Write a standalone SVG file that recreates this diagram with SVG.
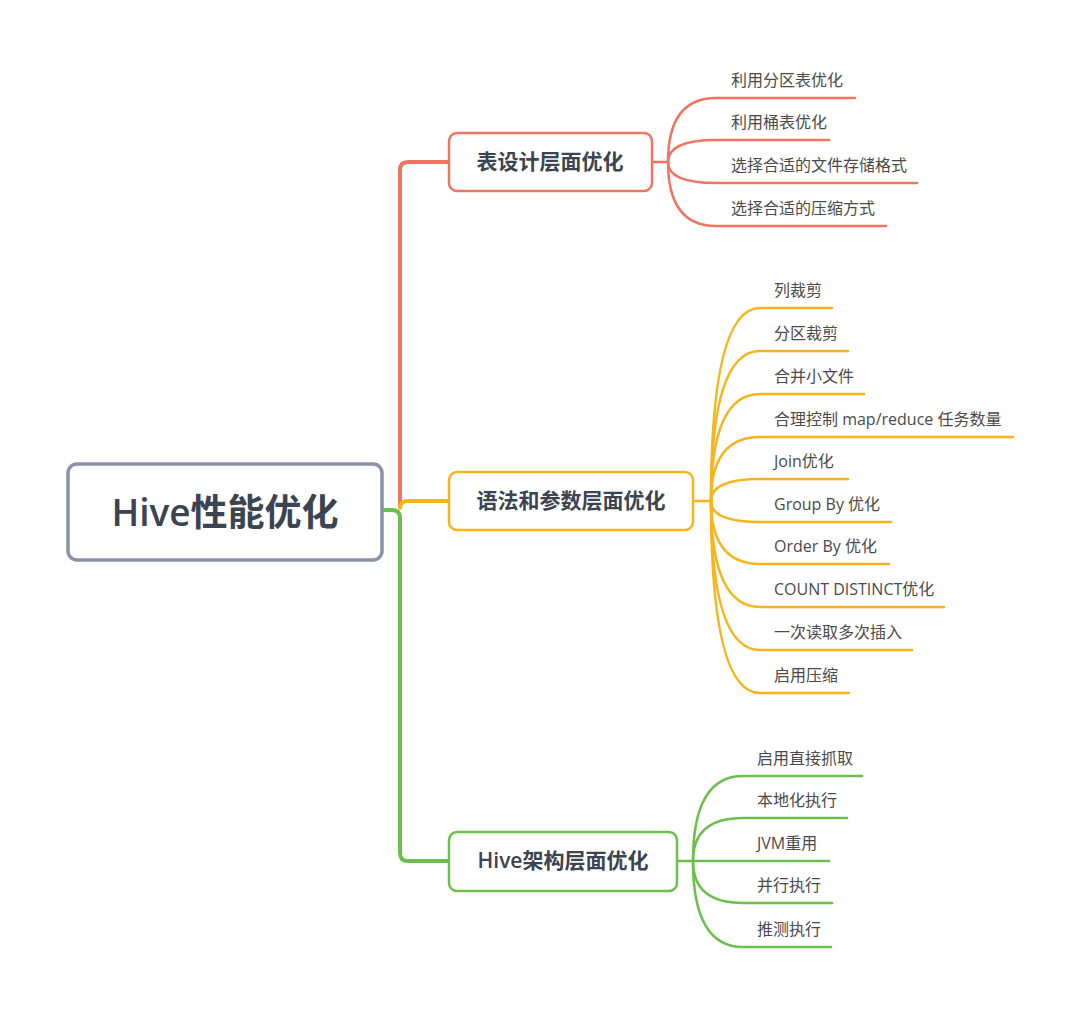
<svg xmlns="http://www.w3.org/2000/svg" width="1080" height="1015" viewBox="0 0 1080 1015">
<style>
.bg{fill:#ffffff}
.box{fill:#ffffff;stroke-width:2.5}
.title{font-family:"Open Sans","Noto Sans CJK SC",sans-serif;font-size:21px;font-weight:bold;fill:#3b4450;text-anchor:middle}
.lat{font-weight:600}
.leaf{font-family:"Open Sans","Noto Sans CJK SC",sans-serif;font-size:16px;fill:#4a4a4a}
.br{fill:none;stroke-width:4;stroke-linecap:round;stroke-linejoin:round}
.ch{fill:none;stroke-width:2.5;stroke-linecap:round}
.red{stroke:#f0745f}
.org{stroke:#f8b41c}
.grn{stroke:#6cbf4c}
</style>
<rect class="bg" x="0" y="0" width="1080" height="1015"/>
<g id="connectors">
  <path class="br grn" d="M383,510 H392 Q400,510 400,518 V853 Q400,861 408,861 H449"/>
  <path class="br red" d="M400,506 V170 Q400,162 408,162 H449"/>
  <path class="br org" d="M400,508 Q400,501 408,501 H449"/>
  <!-- red children -->
  <path class="ch red" d="M652,162 H668"/>
  <path class="ch red" d="M668,162 Q668,98 716,98 H855"/>
  <path class="ch red" d="M668,162 Q668,140 716,140 H829"/>
  <path class="ch red" d="M668,162 Q668,183 716,183 H917"/>
  <path class="ch red" d="M668,162 Q668,226 716,226 H886"/>
  <!-- orange children -->
  <path class="ch org" d="M693,501 H711"/>
  <path class="ch org" d="M711,501 Q711,308 760,308 H832"/>
  <path class="ch org" d="M711,501 Q711,351 760,351 H848"/>
  <path class="ch org" d="M711,501 Q711,394 760,394 H864"/>
  <path class="ch org" d="M711,501 Q711,437 760,437 H1013"/>
  <path class="ch org" d="M711,501 Q711,479 760,479 H848"/>
  <path class="ch org" d="M711,501 Q711,522 760,522 H891"/>
  <path class="ch org" d="M711,501 Q711,564 760,564 H889"/>
  <path class="ch org" d="M711,501 Q711,607 760,607 H944"/>
  <path class="ch org" d="M711,501 Q711,650 760,650 H912"/>
  <path class="ch org" d="M711,501 Q711,693 760,693 H849"/>
  <!-- green children -->
  <path class="ch grn" d="M677,861 H693"/>
  <path class="ch grn" d="M693,861 Q693,776 743,776 H862"/>
  <path class="ch grn" d="M693,861 Q693,818 743,818 H847"/>
  <path class="ch grn" d="M693,861 H829"/>
  <path class="ch grn" d="M693,861 Q693,903 743,903 H832"/>
  <path class="ch grn" d="M693,861 Q693,947 743,947 H831"/>
</g>
<g id="root">
  <rect x="68" y="464" width="314" height="96" rx="9" fill="#ffffff" stroke="#8792a4" stroke-width="3.5"/>
  <text x="225" y="526" class="title" style="font-size:37px"><tspan class="lat">Hive</tspan>性能优化</text>
</g>
<g id="branch-table">
  <rect class="box red" x="449" y="133" width="203" height="58" rx="8"/>
  <text x="550" y="169" class="title">表设计层面优化</text>
</g>
<g id="branch-syntax">
  <rect class="box org" x="449" y="472" width="244" height="58" rx="8"/>
  <text x="571" y="508" class="title">语法和参数层面优化</text>
</g>
<g id="branch-arch">
  <rect class="box grn" x="449" y="832" width="228" height="59" rx="8"/>
  <text x="563" y="868" class="title"><tspan class="lat">Hive</tspan>架构层面优化</text>
</g>
<g id="leaves-table">
  <text class="leaf" x="731" y="86">利用分区表优化</text>
  <text class="leaf" x="731" y="128">利用桶表优化</text>
  <text class="leaf" x="731" y="171">选择合适的文件存储格式</text>
  <text class="leaf" x="731" y="214">选择合适的压缩方式</text>
</g>
<g id="leaves-syntax">
  <text class="leaf" x="774" y="296">列裁剪</text>
  <text class="leaf" x="774" y="339">分区裁剪</text>
  <text class="leaf" x="774" y="382">合并小文件</text>
  <text class="leaf" x="774" y="425">合理控制 map/reduce 任务数量</text>
  <text class="leaf" x="774" y="467">Join优化</text>
  <text class="leaf" x="774" y="510">Group By 优化</text>
  <text class="leaf" x="774" y="552">Order By 优化</text>
  <text class="leaf" x="774" y="595">COUNT DISTINCT优化</text>
  <text class="leaf" x="774" y="638">一次读取多次插入</text>
  <text class="leaf" x="774" y="681">启用压缩</text>
</g>
<g id="leaves-arch">
  <text class="leaf" x="757" y="764">启用直接抓取</text>
  <text class="leaf" x="757" y="806">本地化执行</text>
  <text class="leaf" x="757" y="849">JVM重用</text>
  <text class="leaf" x="757" y="891">并行执行</text>
  <text class="leaf" x="757" y="935">推测执行</text>
</g>
</svg>
